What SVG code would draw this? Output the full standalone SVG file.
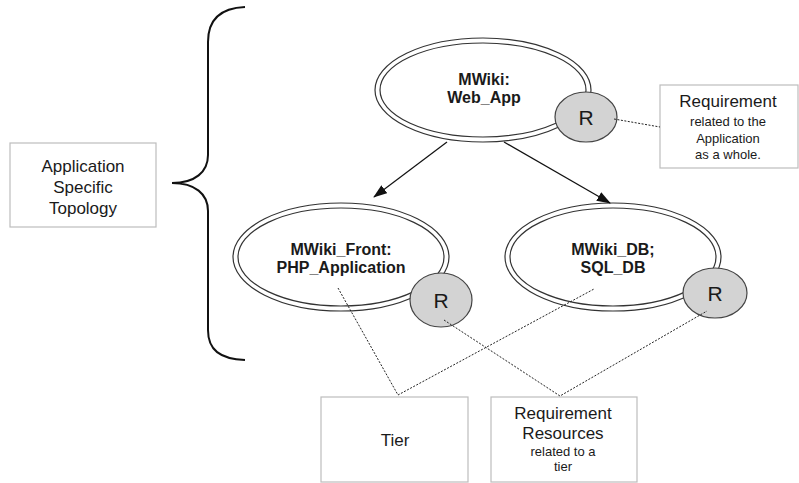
<svg xmlns="http://www.w3.org/2000/svg" width="799" height="483" viewBox="0 0 799 483">
  <style>
    .bg { fill: #ffffff; }
    .box { fill: #ffffff; stroke: #bdbdbd; stroke-width: 1.2; }
    .outer { fill: #ffffff; stroke: #333333; stroke-width: 1.2; }
    .inner { fill: #ffffff; stroke: #333333; stroke-width: 1.2; }
    .req { fill: #d3d3d3; stroke: #444444; stroke-width: 1.2; }
    .t { font-family: "Liberation Sans", Arial, sans-serif; fill: #1a1a1a; text-anchor: middle; }
    .big { font-size: 17px; }
    .small { font-size: 13px; }
    .bold { font-size: 16px; font-weight: bold; }
    .r { font-size: 21px; }
    .edge { stroke: #111111; stroke-width: 1.2; fill: none; }
    .dot { stroke: #222222; stroke-width: 1; stroke-dasharray: 2 1.5; fill: none; }
    .brace { stroke: #111111; stroke-width: 2; fill: none; }
  </style>
  <defs>
    <marker id="arrow" markerWidth="14" markerHeight="10" refX="13" refY="5" orient="auto" markerUnits="userSpaceOnUse">
      <path d="M0,0 L14,5 L0,10 Z" fill="#111111"/>
    </marker>
  </defs>

  <rect class="bg" x="0" y="0" width="799" height="483"/>

  <!-- curly brace grouping the topology -->
  <path class="brace" d="M245,7 C220,8 208,20 208,42 L208,155 C208,172 195,183 172,183 C195,183 208,194 208,211 L208,330 C208,350 220,359 245,360"/>

  <g id="topology-label">
    <rect class="box" x="10" y="143" width="146" height="84"/>
    <text class="t big" x="83" y="172">Application</text>
    <text class="t big" x="83" y="193">Specific</text>
    <text class="t big" x="83" y="214">Topology</text>
  </g>

  <g id="web-app">
    <ellipse class="outer" cx="483" cy="90" rx="108" ry="52"/>
    <ellipse class="inner" cx="483" cy="90" rx="103" ry="47"/>
    <text class="t bold" x="484" y="85">MWiki:</text>
    <text class="t bold" x="484" y="103">Web_App</text>
  </g>
  <g id="web-app-req">
    <ellipse class="req" cx="586" cy="117" rx="31" ry="25"/>
    <text class="t r" x="586" y="125">R</text>
  </g>

  <g id="front">
    <ellipse class="outer" cx="341" cy="257" rx="108" ry="54"/>
    <ellipse class="inner" cx="341" cy="257" rx="103" ry="49"/>
    <text class="t bold" x="341" y="255">MWiki_Front:</text>
    <text class="t bold" x="341" y="273">PHP_Application</text>
  </g>
  <g id="front-req">
    <ellipse class="req" cx="441" cy="300" rx="31" ry="27"/>
    <text class="t r" x="441" y="308">R</text>
  </g>

  <g id="db">
    <ellipse class="outer" cx="613" cy="257" rx="108" ry="54"/>
    <ellipse class="inner" cx="613" cy="257" rx="103" ry="49"/>
    <text class="t bold" x="613" y="255">MWiki_DB;</text>
    <text class="t bold" x="613" y="273">SQL_DB</text>
  </g>
  <g id="db-req">
    <ellipse class="req" cx="715" cy="293" rx="32" ry="25"/>
    <text class="t r" x="715" y="301">R</text>
  </g>

  <g id="app-requirement-note">
    <rect class="box" x="660" y="85" width="138" height="83"/>
    <text class="t big" x="728" y="107">Requirement</text>
    <text class="t small" x="728" y="126">related to the</text>
    <text class="t small" x="728" y="143">Application</text>
    <text class="t small" x="728" y="159">as a whole.</text>
  </g>

  <g id="tier-note">
    <rect class="box" x="321" y="397" width="147" height="85"/>
    <text class="t big" x="395" y="446">Tier</text>
  </g>

  <g id="tier-requirement-note">
    <rect class="box" x="491" y="397" width="146" height="85"/>
    <text class="t big" x="563" y="419">Requirement</text>
    <text class="t big" x="563" y="439">Resources</text>
    <text class="t small" x="563" y="456">related to a</text>
    <text class="t small" x="563" y="471">tier</text>
  </g>

  <!-- connectors, drawn over the nodes so the dotted leaders reach inside them -->
  <g id="connectors">
    <line class="edge" x1="447" y1="142" x2="374" y2="197" marker-end="url(#arrow)"/>
    <line class="edge" x1="504" y1="142" x2="610" y2="203" marker-end="url(#arrow)"/>
    <line class="dot" x1="614" y1="119" x2="660" y2="127"/>
    <polyline class="dot" points="338,288 398,395 594,289"/>
    <polyline class="dot" points="444,320 560,396 707,311"/>
  </g>
</svg>
